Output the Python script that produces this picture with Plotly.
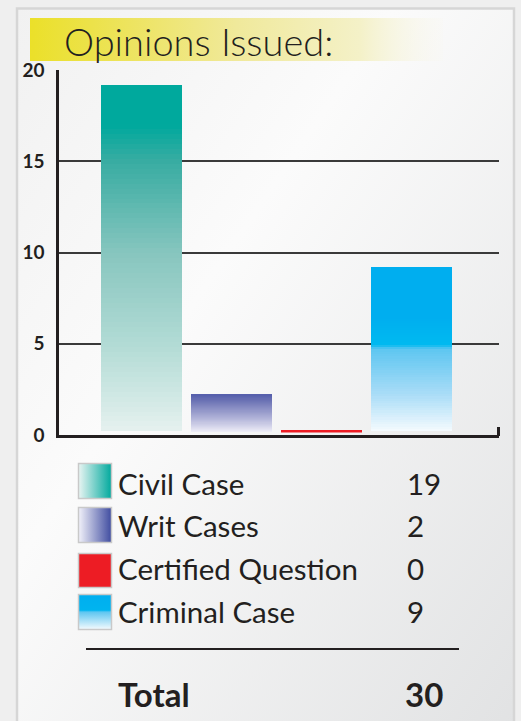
import base64
import plotly.graph_objects as go

# ---------------- data ----------------
categories = ["Civil Case", "Writ Cases", "Certified Question", "Criminal Case"]
values = [19, 2, 0, 9]
tick_vals = [0, 5, 10, 15, 20]
tick_text = ["0", "5", "10", "15", "20"]
title_text = "Opinions Issued:"
total_label = "Total"

# ---------------- styling ----------------
W, H = 521, 721
TXT = "#231f20"
FONT = "Lato"
BASE = 0.2          # bars float slightly above the axis line
BAR_W = 0.9
N_SLICES = 70

# vertical gradient stops (fraction from bar bottom -> colour)
bar_stops = [
    [(0.0, "#e5f1ef"), (0.25, "#b2dbd5"), (0.51, "#88c6bf"), (0.78, "#38aca2"), (0.88, "#00a99d"), (1.0, "#00a99d")],
    [(0.0, "#eeedf7"), (0.35, "#b4b6da"), (0.7, "#8287c0"), (1.0, "#565fab")],
    [(0.0, "#ed1c24"), (1.0, "#ed1c24")],
    [(0.0, "#f5fbfe"), (0.23, "#a8dcf7"), (0.5, "#5ec6f1"), (0.53, "#00b9f0"), (0.7, "#00aeef"), (1.0, "#00aeef")],
]
zero_color = "#ed1c24"


def px(x):
    return x / W


def py(y):
    return 1 - y / H


def hex2rgb(h):
    h = h.lstrip("#")
    return tuple(int(h[i:i + 2], 16) for i in (0, 2, 4))


def interp(stops, f):
    for (p0, c0), (p1, c1) in zip(stops[:-1], stops[1:]):
        if f <= p1:
            t = 0 if p1 == p0 else (f - p0) / (p1 - p0)
            a, b = hex2rgb(c0), hex2rgb(c1)
            return "rgb(%d,%d,%d)" % tuple(round(a[k] + (b[k] - a[k]) * t) for k in range(3))
    return stops[-1][1]


xpos = list(range(len(categories)))

fig = go.Figure()

# gradient bars built from stacked slices of each value
for i in range(N_SLICES):
    f = (i + 0.5) / N_SLICES
    fig.add_bar(
        x=xpos,
        y=[v / N_SLICES for v in values],
        base=[BASE + v * i / N_SLICES for v in values],
        width=BAR_W,
        marker=dict(color=[interp(bar_stops[c], f) for c in xpos], line=dict(width=0)),
        showlegend=False,
        hoverinfo="skip",
    )

# zero-valued categories shown as a thin line
for c, v in zip(xpos, values):
    if v == 0:
        fig.add_scatter(
            x=[c - BAR_W / 2, c + BAR_W / 2], y=[BASE + v, BASE + v],
            mode="lines", line=dict(color=zero_color, width=2.5),
            showlegend=False, hoverinfo="skip",
        )

# ---------------- background SVG (panel, banner, legend swatches) ----------------
swatch_rows = [(463, 499), (507, 543), (553, 588), (594, 630)]
swatch_dirs = [("0", "0", "1", "0"), ("0", "0", "1", "0"), ("0", "0", "1", "0"), ("0", "1", "0", "0")]
swatch_stops = [
    [(0, "#eaf5f3"), (1, "#00a99d")],
    [(0, "#f2f2fa"), (1, "#3f4ca0")],
    [(0, "#ed1c24"), (1, "#ed1c24")],
    [(0, "#f5fbfe"), (0.5, "#5ec6f1"), (0.55, "#00b4ef"), (1, "#00aeef")],
]


def grad(gid, stops, x1="0", y1="0", x2="1", y2="0"):
    s = "".join('<stop offset="%s" stop-color="%s"/>' % (o, c) for o, c in stops)
    return '<linearGradient id="%s" x1="%s" y1="%s" x2="%s" y2="%s">%s</linearGradient>' % (gid, x1, y1, x2, y2, s)


defs = [
    grad("panel", [(0, "#f1f1f1"), (0.38, "#fbfbfb"), (1, "#e1e2e3")], "0", "0", "1", "1"),
    '<linearGradient id="banner" x1="0" y1="0" x2="1" y2="0">'
    '<stop offset="0" stop-color="#ebe029"/><stop offset="0.15" stop-color="#ece24a"/>'
    '<stop offset="0.5" stop-color="#f0e99b"/><stop offset="0.8" stop-color="#f4f1c8"/>'
    '<stop offset="1" stop-color="#f8f7ee" stop-opacity="0.2"/></linearGradient>',
]
for k, (st, d) in enumerate(zip(swatch_stops, swatch_dirs)):
    defs.append(grad("sw%d" % k, st, *d))

body = [
    '<rect x="0" y="0" width="%d" height="%d" fill="#efefef"/>' % (W, H),
    '<rect x="17" y="8.5" width="497" height="730" fill="url(#panel)" stroke="#d6d6d6" stroke-width="2.5"/>',
    '<rect x="30" y="18" width="413" height="43" fill="url(#banner)"/>',
]
for k, (y0, y1) in enumerate(swatch_rows):
    body.append('<rect x="78.5" y="%s" width="33" height="%s" fill="url(#sw%d)" stroke="#c9c9c9" stroke-width="1.5"/>'
                % (y0 + 0.5, y1 - y0 - 1, k))

svg = ('<svg xmlns="http://www.w3.org/2000/svg" width="%d" height="%d" viewBox="0 0 %d %d" preserveAspectRatio="none">'
       '<defs>%s</defs>%s</svg>') % (W, H, W, H, "".join(defs), "".join(body))
src = "data:image/svg+xml;base64," + base64.b64encode(svg.encode()).decode()

# ---------------- annotations ----------------
ann = [dict(text=title_text, x=px(62), y=py(41), xref="paper", yref="paper", xanchor="left", yanchor="middle",
            showarrow=False, font=dict(family=FONT, size=38, color=TXT, weight=300))]
row_centers = [483, 525, 568, 611]
for name, v, yc in zip(categories, values, row_centers):
    ann.append(dict(text=name, x=px(116), y=py(yc), xref="paper", yref="paper", xanchor="left", yanchor="middle",
                    showarrow=False, font=dict(family=FONT, size=29.5, color=TXT)))
    ann.append(dict(text=str(v), x=px(405), y=py(yc), xref="paper", yref="paper", xanchor="left", yanchor="middle",
                    showarrow=False, font=dict(family=FONT, size=29.5, color=TXT)))
ann.append(dict(text="<b>%s</b>" % total_label, x=px(116), y=py(694), xref="paper", yref="paper", xanchor="left",
                yanchor="middle", showarrow=False, font=dict(family=FONT, size=33, color=TXT)))
ann.append(dict(text="<b>%d</b>" % sum(values), x=px(403), y=py(694), xref="paper", yref="paper", xanchor="left",
                yanchor="middle", showarrow=False, font=dict(family=FONT, size=33, color=TXT)))

shapes = [
    dict(type="line", xref="paper", yref="paper", x0=px(86), x1=px(459), y0=py(649), y1=py(649),
         line=dict(color=TXT, width=2)),
    dict(type="line", xref="paper", yref="paper", x0=px(498.5), x1=px(498.5), y0=py(436), y1=py(427),
         line=dict(color=TXT, width=3)),
]

x_left = (59 - 141.5) / 90
x_right = (499 - 141.5) / 90

fig.update_layout(
    width=W, height=H, autosize=False,
    margin=dict(l=0, r=0, t=0, b=0, pad=0, autoexpand=False),
    paper_bgcolor="#efefef", plot_bgcolor="rgba(0,0,0,0)",
    barmode="overlay", bargap=0,
    showlegend=False,
    images=[dict(source=src, xref="paper", yref="paper", x=0, y=1, sizex=1, sizey=1,
                 xanchor="left", yanchor="top", sizing="stretch", layer="below")],
    annotations=ann,
    shapes=shapes,
    xaxis=dict(domain=[px(59), px(499)], range=[x_left, x_right], showgrid=False, zeroline=False,
               showticklabels=False, ticks="", showline=True, linecolor=TXT, linewidth=3, fixedrange=True,
               automargin=False),
    yaxis=dict(domain=[py(435), py(70)], range=[0, 20], tickvals=tick_vals, ticktext=tick_text,
               showgrid=True, gridcolor="#3a3a3a", gridwidth=1.5, zeroline=False,
               showline=True, linecolor=TXT, linewidth=2.5, ticks="", ticklabelstandoff=8,
               tickfont=dict(family=FONT, size=19, color=TXT, weight="bold"), fixedrange=True,
               automargin=False),
)

fig.write_html(
    "out.html",
    config={"responsive": False, "displayModeBar": False},
    post_script="document.body.style.margin='0';document.body.style.overflow='hidden';",
)
